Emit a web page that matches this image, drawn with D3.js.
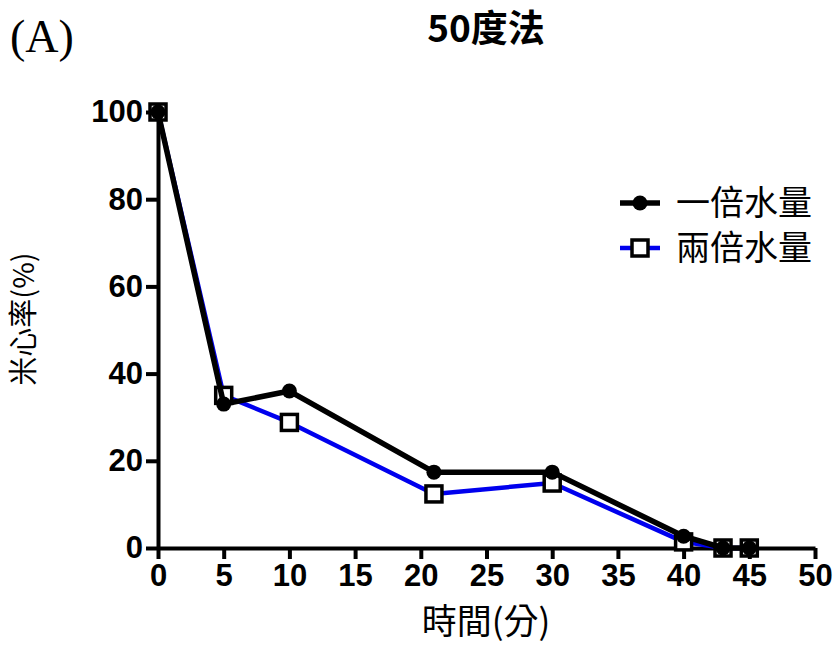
<!DOCTYPE html>
<html>
<head>
<meta charset="utf-8">
<script src="https://cdn.jsdelivr.net/npm/d3@7"></script>
<style>
  body { margin: 0; background: #fff; }
  svg { display: block; }
</style>
</head>
<body>
<div id="chart"></div>
<script>
// Data
const times = [0, 5, 10, 21, 30, 40, 43, 45];
const oneTimesWater = [100, 33, 36, 17.4, 17.4, 2.7, 0, 0];
const twoTimesWater = [100, 35, 28.8, 12.4, 14.9, 1.4, 0, 0];
const seriesNames = ['一倍水量', '兩倍水量'];
const xTicks = [0, 5, 10, 15, 20, 25, 30, 35, 40, 45, 50];
const yTicks = [0, 20, 40, 60, 80, 100];

const W = 837, H = 646;
const margin = { top: 112, right: 22, bottom: 98, left: 158 };
const width = W - margin.left - margin.right;
const height = H - margin.top - margin.bottom;

const svg = d3.select('#chart').append('svg')
  .attr('width', W).attr('height', H);

const g = svg.append('g').attr('transform', `translate(${margin.left},${margin.top})`);

const x = d3.scaleLinear().domain([0, 50]).range([0, width]);
const y = d3.scaleLinear().domain([0, 100]).range([height, 0]);

const numFont = '"Liberation Sans", Arial, sans-serif';
const cjkFont = '"Noto Sans CJK TC", "Noto Sans CJK SC", sans-serif';

// Axes
g.append('g').attr('transform', `translate(0,${height})`)
  .call(d3.axisBottom(x).tickValues(xTicks).tickSize(11).tickPadding(5).tickSizeOuter(0))
  .call(a => a.select('.domain').attr('stroke', '#000').attr('stroke-width', 4))
  .call(a => a.selectAll('.tick line').attr('stroke', '#000').attr('stroke-width', 4))
  .call(a => a.selectAll('.tick text').attr('fill', '#000')
    .attr('font-family', numFont).attr('font-weight', 'bold').attr('font-size', '31px'));

g.append('g')
  .call(d3.axisLeft(y).tickValues(yTicks).tickSize(12).tickPadding(3).tickSizeOuter(0))
  .call(a => a.select('.domain').attr('stroke', '#000').attr('stroke-width', 4))
  .call(a => a.selectAll('.tick line').attr('stroke', '#000').attr('stroke-width', 4))
  .call(a => a.selectAll('.tick text').attr('fill', '#000')
    .attr('font-family', numFont).attr('font-weight', 'bold').attr('font-size', '31px'));

// Lines
const pts1 = times.map((t, i) => ({ t, v: oneTimesWater[i] }));
const pts2 = times.map((t, i) => ({ t, v: twoTimesWater[i] }));
const line = d3.line().x(d => x(d.t)).y(d => y(d.v));

g.append('path').datum(pts2).attr('fill', 'none')
  .attr('stroke', '#0000ee').attr('stroke-width', 4.5).attr('stroke-linejoin', 'round').attr('d', line);

g.selectAll('rect.s2').data(pts2).join('rect').attr('class', 's2')
  .attr('x', d => x(d.t) - 8).attr('y', d => y(d.v) - 8)
  .attr('width', 16).attr('height', 16)
  .attr('fill', '#fff').attr('stroke', '#000').attr('stroke-width', 3.5);

g.append('path').datum(pts1).attr('fill', 'none')
  .attr('stroke', '#000').attr('stroke-width', 5.5).attr('stroke-linejoin', 'round').attr('d', line);

g.selectAll('circle.s1').data(pts1).join('circle').attr('class', 's1')
  .attr('cx', d => x(d.t)).attr('cy', d => y(d.v)).attr('r', 7.5)
  .attr('fill', '#000');

// Legend
const legend = svg.append('g').attr('transform', 'translate(620,203)');
legend.append('line').attr('x1', 0).attr('x2', 40).attr('y1', 0).attr('y2', 0)
  .attr('stroke', '#000').attr('stroke-width', 5.5);
legend.append('circle').attr('cx', 20).attr('cy', 0).attr('r', 7.5).attr('fill', '#000');
legend.append('text').attr('x', 56).attr('y', 0).attr('dy', '0.36em')
  .attr('font-family', cjkFont).attr('font-size', '34px').attr('fill', '#000')
  .text(seriesNames[0]);

legend.append('line').attr('x1', 0).attr('x2', 40).attr('y1', 45).attr('y2', 45)
  .attr('stroke', '#0000ee').attr('stroke-width', 4.5);
legend.append('rect').attr('x', 12).attr('y', 37).attr('width', 16).attr('height', 16)
  .attr('fill', '#fff').attr('stroke', '#000').attr('stroke-width', 3.5);
legend.append('text').attr('x', 56).attr('y', 45).attr('dy', '0.36em')
  .attr('font-family', cjkFont).attr('font-size', '34px').attr('fill', '#000')
  .text(seriesNames[1]);

// Titles and labels
svg.append('text').attr('x', 486).attr('y', 42).attr('text-anchor', 'middle')
  .attr('font-family', cjkFont).attr('font-weight', 'bold').attr('font-size', '37px')
  .attr('fill', '#000').text('50度法');

svg.append('text').attr('x', 10).attr('y', 52)
  .attr('font-family', '"Liberation Serif", "Times New Roman", serif').attr('font-size', '46px')
  .attr('fill', '#000').text('(A)');

svg.append('text').attr('x', 486).attr('y', 634).attr('text-anchor', 'middle')
  .attr('font-family', cjkFont).attr('font-size', '35px').attr('fill', '#000')
  .text('時間(分)');

svg.append('text').attr('transform', 'translate(34,319) rotate(-90)').attr('text-anchor', 'middle')
  .attr('font-family', cjkFont).attr('font-size', '29px').attr('fill', '#000')
  .text('米心率(%)');
</script>
</body>
</html>
